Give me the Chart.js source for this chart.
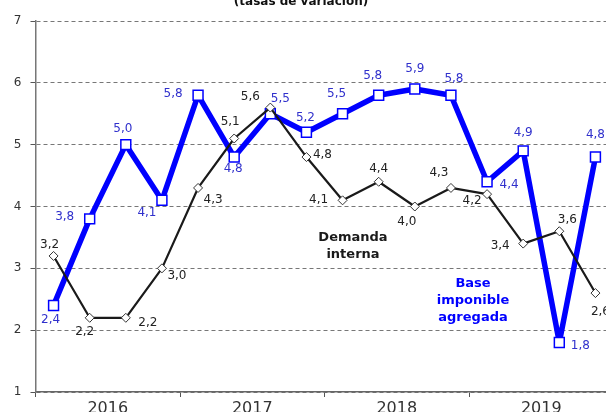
<!DOCTYPE html>
<html>
<head>
<meta charset="utf-8">
<script src="https://cdn.jsdelivr.net/npm/chart.js@4"></script>
<style>
    html, body { margin: 0; padding: 0; overflow: hidden; background: #fff; }
    #wrap { width: 622px; height: 412px; }
</style>
</head>
<body>
<div id="wrap"><canvas id="chart" width="622" height="412"></canvas></div>
<script>
/* ========================================
   Base imponible vs demanda interna
   ======================================== */

const quarters = ['I', 'II', 'III', 'IV', 'I', 'II', 'III', 'IV',
                  'I', 'II', 'III', 'IV', 'I', 'II', 'III', 'IV'];
const years = ['2016', '2017', '2018', '2019'];
const baseImponible = [2.4, 3.8, 5.0, 4.1, 5.8, 4.8, 5.5, 5.2, 5.5, 5.8, 5.9, 5.8, 4.4, 4.9, 1.8, 4.8];
const demandaInterna = [3.2, 2.2, 2.2, 3.0, 4.3, 5.1, 5.6, 4.8, 4.1, 4.4, 4.0, 4.3, 4.2, 3.4, 3.6, 2.6];
const yTicks = [1, 2, 3, 4, 5, 6, 7];

// label offsets (px) from each point
const baseLabelPos = [[-3, 14], [-25, -2], [-3, -16], [-15, 13], [-25, -1], [-1, 12], [10, -15], [-1, -14],
                      [-6, -20], [-6, -19], [0, -20], [3, -16], [22, 3], [0, -18], [21, 3], [0, -22]];
const demandaLabelPos = [[-4, -11], [-5, 14], [22, 5], [15, 8], [15, 12], [-4, -17], [-20, -11], [16, -2],
                         [-24, 0], [0, -13], [-8, 15], [-12, -15], [-15, 7], [-23, 2], [8, -11], [5, 19]];

const BLUE = '#0000ff';
const BLUE_TEXT = '#3030cc';
const DARK = '#1a1a1a';

Chart.defaults.font.family = "'DejaVu Sans', Verdana, sans-serif";

const pointLabels = {
    id: 'pointLabels',
    afterDatasetsDraw(chart) {
        const ctx = chart.ctx;
        ctx.save();
        ctx.font = "12px 'DejaVu Sans', Verdana, sans-serif";
        ctx.textAlign = 'center';
        ctx.textBaseline = 'middle';
        chart.data.datasets.forEach((ds, i) => {
            const meta = chart.getDatasetMeta(i);
            ctx.fillStyle = ds.labelColor;
            meta.data.forEach((pt, j) => {
                const off = ds.labelPos[j];
                const txt = ds.data[j].toFixed(1).replace('.', ',');
                ctx.fillText(txt, pt.x + off[0], pt.y + off[1]);
            });
        });
        ctx.restore();
    }
};

const annotations = {
    id: 'annotations',
    afterDraw(chart) {
        const ctx = chart.ctx;
        ctx.save();
        ctx.textAlign = 'center';

        // title (partly cut at top)
        ctx.font = "bold 12px 'DejaVu Sans', Verdana, sans-serif";
        ctx.fillStyle = '#111';
        ctx.textBaseline = 'alphabetic';
        ctx.fillText('(tasas de variación)', 301, 5);

        ctx.textBaseline = 'middle';
        ctx.font = "bold 13px 'DejaVu Sans', Verdana, sans-serif";
        ctx.fillStyle = DARK;
        ctx.fillText('Demanda', 353, 238);
        ctx.fillText('interna', 353, 255);

        ctx.fillStyle = BLUE;
        ctx.fillText('Base', 473, 284);
        ctx.fillText('imponible', 473, 301);
        ctx.fillText('agregada', 473, 318);
        ctx.restore();
    }
};

const ctx = document.getElementById('chart').getContext('2d');
new Chart(ctx, {
    type: 'line',
    data: {
        labels: quarters,
        datasets: [{
            label: 'Demanda interna',
            data: demandaInterna,
            borderColor: DARK,
            borderWidth: 2.2,
            borderJoinStyle: 'bevel',
            pointStyle: 'rectRot',
            pointRadius: 4.5,
            pointBackgroundColor: '#ffffff',
            pointBorderColor: '#333333',
            pointBorderWidth: 1,
            tension: 0,
            order: 0,
            labelColor: '#222222',
            labelPos: demandaLabelPos
        }, {
            label: 'Base imponible agregada',
            data: baseImponible,
            borderColor: BLUE,
            borderWidth: 5.5,
            borderJoinStyle: 'bevel',
            pointStyle: 'rect',
            pointRadius: 7,
            pointBackgroundColor: '#ffffff',
            pointBorderColor: BLUE,
            pointBorderWidth: 1.5,
            tension: 0,
            order: 1,
            labelColor: BLUE_TEXT,
            labelPos: baseLabelPos
        }]
    },
    options: {
        responsive: false,
        animation: false,
        devicePixelRatio: 1,
        layout: {
            padding: { top: 21, right: 2.5, left: 0, bottom: 0 }
        },
        plugins: {
            legend: { display: false },
            tooltip: { enabled: false }
        },
        scales: {
            x: {
                display: false,
                offset: true
            },
            xYear: {
                type: 'category',
                labels: years,
                position: 'bottom',
                offset: true,
                afterFit: scale => { scale.height = 20; },
                grid: {
                    offset: true,
                    drawOnChartArea: false,
                    tickLength: 5,
                    tickColor: '#555',
                    tickWidth: 1
                },
                border: { color: '#666', width: 1.5 },
                ticks: {
                    color: '#333',
                    padding: 2,
                    font: { size: 16 }
                }
            },
            y: {
                min: 1,
                max: 7,
                afterFit: scale => { scale.width = 35.5; },
                afterBuildTicks: scale => { scale.ticks = yTicks.map(v => ({ value: v })); },
                grid: {
                    color: '#777',
                    lineWidth: 1,
                    tickLength: 5,
                    tickColor: '#555',
                    tickBorderDash: []
                },
                border: { color: '#777', width: 1.5, dash: [4, 3] },
                ticks: {
                    color: '#333',
                    padding: 9,
                    font: { size: 12 }
                }
            }
        }
    },
    plugins: [pointLabels, annotations]
});
</script>
</body>
</html>
